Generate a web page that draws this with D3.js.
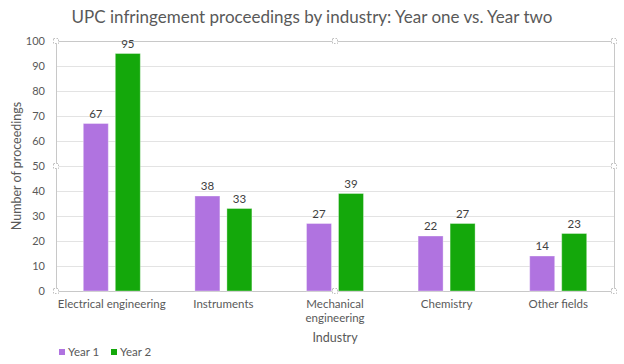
<!DOCTYPE html>
<html><head><meta charset="utf-8">
<script src="https://cdn.jsdelivr.net/npm/d3@7"></script>
<style>body{margin:0;background:#fff}svg{display:block}text{font-family:Lato,"Open Sans",sans-serif}</style>
</head><body>
<svg id="c" width="624" height="364"></svg>
<script>
const categories = ["Electrical engineering", "Instruments", "Mechanical engineering", "Chemistry", "Other fields"];
const categoryLines = [["Electrical engineering"], ["Instruments"], ["Mechanical", "engineering"], ["Chemistry"], ["Other fields"]];
const seriesNames = ["Year 1", "Year 2"];
const year1 = [67, 38, 27, 22, 14];
const year2 = [95, 33, 39, 27, 23];
const yTicks = [0, 10, 20, 30, 40, 50, 60, 70, 80, 90, 100];
const colors = ["#b073e0", "#14a80b"];

const svg = d3.select("#c");
const L = 56, R = 614, T = 41, B = 291;
const x = d3.scaleBand().domain(categories).range([L, R]);
const y = d3.scaleLinear().domain([0, 100]).range([B, T]);
const txt = "#595959";

// title
svg.append("text").attr("x", 312).attr("y", 23).attr("text-anchor", "middle")
  .attr("fill", txt).attr("font-size", 17).text("UPC infringement proceedings by industry: Year one vs. Year two");

// gridlines
svg.append("g").selectAll("line").data(yTicks).join("line")
  .attr("x1", L).attr("x2", R).attr("y1", d => y(d) + 0.5).attr("y2", d => y(d) + 0.5)
  .attr("stroke", d => (d === 0 || d === 100) ? "#c8c8c8" : "#e3e3e3").attr("stroke-width", 1);
// plot area sides
svg.append("line").attr("x1", L + 0.5).attr("x2", L + 0.5).attr("y1", T).attr("y2", B).attr("stroke", "#c8c8c8");
svg.append("line").attr("x1", R + 0.5).attr("x2", R + 0.5).attr("y1", T).attr("y2", B).attr("stroke", "#c8c8c8");

// y tick labels
svg.append("g").selectAll("text").data(yTicks).join("text")
  .attr("x", 45).attr("y", d => y(d) + 4).attr("text-anchor", "end")
  .attr("fill", txt).attr("font-size", 11).text(d => d);

// bars
const bw = 25, gap = 7;
const series = [year1, year2];
series.forEach((vals, si) => {
  const g = svg.append("g");
  const xs = (d, i) => x(categories[i]) + x.bandwidth() / 2 + (si === 0 ? -gap / 2 - bw : gap / 2);
  g.selectAll("rect").data(vals).join("rect")
    .attr("x", xs).attr("y", d => y(d)).attr("width", bw).attr("height", d => B - y(d))
    .attr("fill", colors[si]).attr("stroke", "#ffffff").attr("stroke-opacity", 0.35).attr("stroke-width", 1);
  g.selectAll("text").data(vals).join("text")
    .attr("x", (d, i) => xs(d, i) + bw / 2).attr("y", d => y(d) - 6).attr("text-anchor", "middle")
    .attr("fill", "#404040").attr("font-size", 11.5).text(d => d);
});

// category labels
const cl = svg.append("g");
categories.forEach((c, i) => {
  const t = cl.append("text").attr("x", x(c) + x.bandwidth() / 2).attr("y", 308)
    .attr("text-anchor", "middle").attr("fill", txt).attr("font-size", 11.5);
  categoryLines[i].forEach((ln, j) => t.append("tspan").attr("x", x(c) + x.bandwidth() / 2).attr("dy", j ? 14 : 0).text(ln));
});

// axis titles
svg.append("text").attr("x", 335).attr("y", 342).attr("text-anchor", "middle")
  .attr("fill", txt).attr("font-size", 12.5).text("Industry");
svg.append("text").attr("transform", "translate(21,166) rotate(-90)").attr("text-anchor", "middle")
  .attr("fill", txt).attr("font-size", 12.5).text("Number of proceedings");

// legend
const lg = svg.append("g");
seriesNames.forEach((n, i) => {
  const lx = 59 + i * 52;
  lg.append("rect").attr("x", lx).attr("y", 349).attr("width", 6).attr("height", 6).attr("fill", colors[i]);
  lg.append("text").attr("x", lx + 9).attr("y", 356).attr("fill", txt).attr("font-size", 11.5).text(n);
});

// selection handles
const hx = [L, (L + R) / 2, R], hy = [T, (T + B) / 2, B];
const handles = [];
hx.forEach(a => hy.forEach(b => { if (!(a === (L + R) / 2 && b === (T + B) / 2)) handles.push([a, b]); }));
svg.append("g").selectAll("rect").data(handles)
  .join("rect").attr("x", d => d[0] - 2.5).attr("y", d => d[1] - 2.5).attr("width", 5).attr("height", 5)
  .attr("fill", "#fff").attr("stroke", "#b0b0b0").attr("stroke-width", 0.8).attr("stroke-dasharray", "1.5,1.5");
</script>
</body></html>
